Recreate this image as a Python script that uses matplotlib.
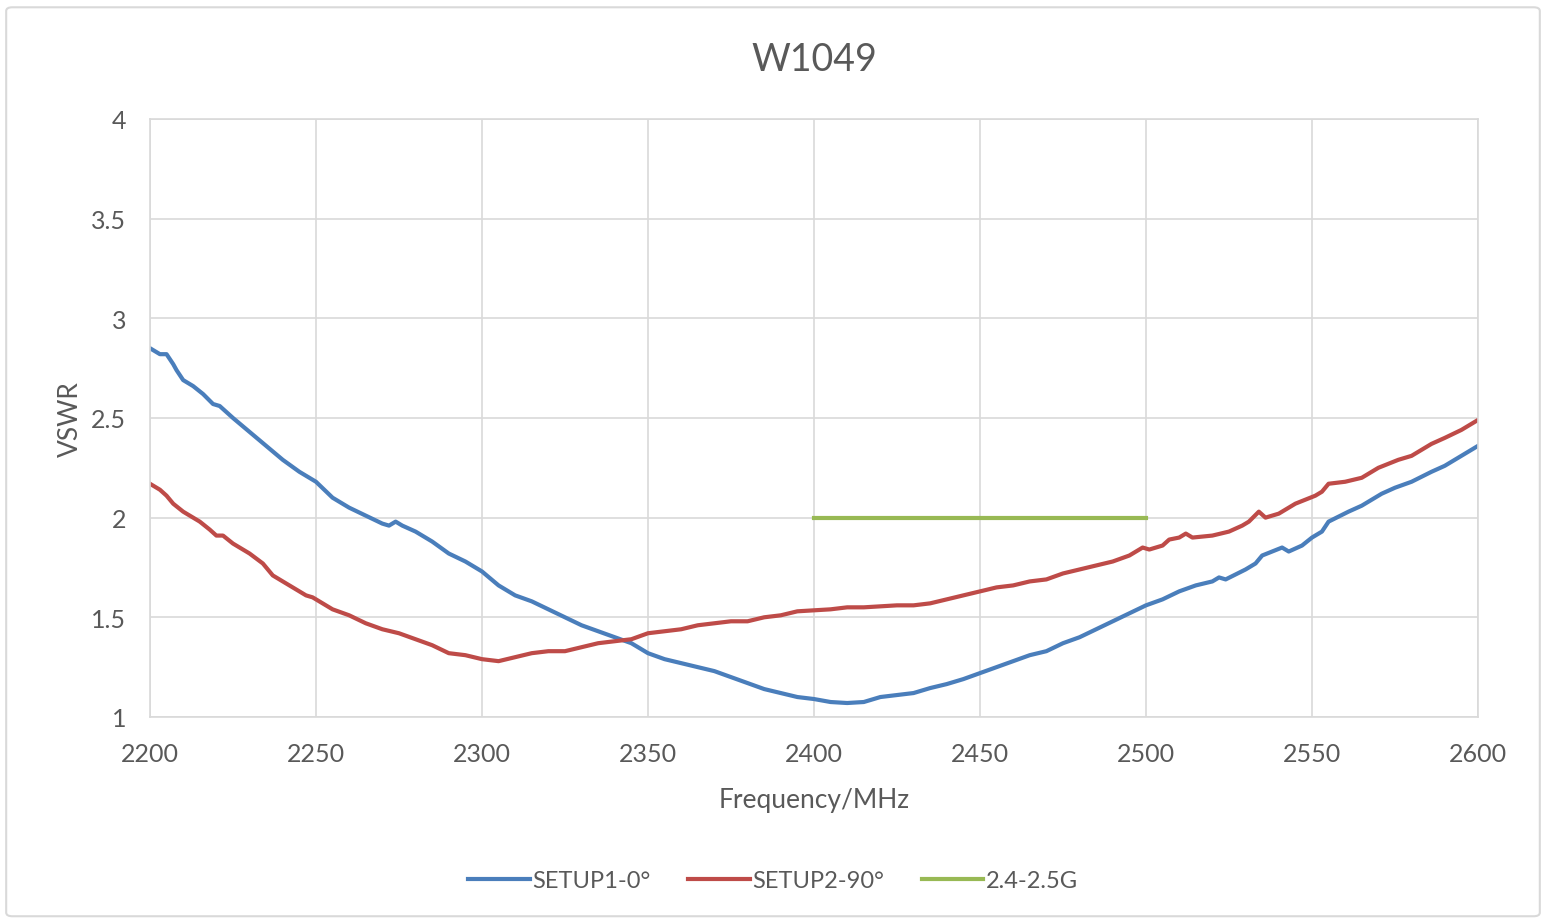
import numpy as np
import matplotlib
matplotlib.use('Agg')
import matplotlib.pyplot as plt
from matplotlib.patches import FancyBboxPatch

plt.rcParams['font.family'] = ['Lato', 'DejaVu Sans']

# SETUP1-0 deg
freq1 = [2200, 2203, 2205, 2207, 2208, 2210, 2213, 2216, 2219, 2221, 2225, 2230,
         2235, 2240, 2245, 2250, 2255, 2260, 2265, 2270, 2272, 2274, 2276, 2280,
         2285, 2290, 2295, 2300, 2305, 2310, 2315, 2320, 2325, 2330, 2335, 2340,
         2345, 2350, 2355, 2360, 2365, 2370, 2375, 2380, 2385, 2390, 2395, 2400,
         2405, 2410, 2415, 2420, 2425, 2430, 2435, 2440, 2445, 2450, 2455, 2460,
         2465, 2470, 2475, 2480, 2485, 2490, 2495, 2500, 2505, 2510, 2515, 2520,
         2522, 2524, 2530, 2533, 2535, 2541, 2543, 2547, 2550, 2553, 2555, 2561,
         2565, 2571, 2575, 2580, 2586, 2590, 2595, 2600]
vswr1 = [2.85, 2.82, 2.82, 2.77, 2.74, 2.69, 2.66, 2.62, 2.57, 2.56, 2.50, 2.43,
         2.36, 2.29, 2.23, 2.18, 2.10, 2.05, 2.01, 1.97, 1.96, 1.98, 1.96, 1.93,
         1.88, 1.82, 1.78, 1.73, 1.66, 1.61, 1.58, 1.54, 1.50, 1.46, 1.43, 1.40,
         1.37, 1.32, 1.29, 1.27, 1.25, 1.23, 1.20, 1.17, 1.14, 1.12, 1.10, 1.09,
         1.075, 1.07, 1.075, 1.10, 1.11, 1.12, 1.145, 1.165, 1.19, 1.22, 1.25, 1.28,
         1.31, 1.33, 1.37, 1.40, 1.44, 1.48, 1.52, 1.56, 1.59, 1.63, 1.66, 1.68,
         1.70, 1.69, 1.74, 1.77, 1.81, 1.85, 1.83, 1.86, 1.90, 1.93, 1.98, 2.03,
         2.06, 2.12, 2.15, 2.18, 2.23, 2.26, 2.31, 2.36]

# SETUP2-90 deg
freq2 = [2200, 2203, 2205, 2207, 2210, 2215, 2218, 2220, 2222, 2225, 2230, 2234,
         2237, 2240, 2245, 2247, 2249, 2250, 2255, 2260, 2265, 2270, 2275, 2280,
         2285, 2290, 2295, 2300, 2305, 2310, 2315, 2320, 2325, 2330, 2335, 2340,
         2345, 2350, 2355, 2360, 2365, 2370, 2375, 2380, 2385, 2390, 2395, 2400,
         2405, 2410, 2415, 2420, 2425, 2430, 2435, 2440, 2445, 2450, 2455, 2460,
         2465, 2470, 2475, 2480, 2485, 2490, 2495, 2499, 2501, 2505, 2507, 2510,
         2512, 2514, 2520, 2525, 2529, 2531, 2534, 2536, 2540, 2545, 2551, 2553,
         2555, 2560, 2565, 2570, 2576, 2580, 2586, 2590, 2595, 2600]
vswr2 = [2.17, 2.14, 2.11, 2.07, 2.03, 1.98, 1.94, 1.91, 1.91, 1.87, 1.82, 1.77,
         1.71, 1.68, 1.63, 1.61, 1.60, 1.59, 1.54, 1.51, 1.47, 1.44, 1.42, 1.39,
         1.36, 1.32, 1.31, 1.29, 1.28, 1.30, 1.32, 1.33, 1.33, 1.35, 1.37, 1.38,
         1.39, 1.42, 1.43, 1.44, 1.46, 1.47, 1.48, 1.48, 1.50, 1.51, 1.53, 1.535,
         1.54, 1.55, 1.55, 1.555, 1.56, 1.56, 1.57, 1.59, 1.61, 1.63, 1.65, 1.66,
         1.68, 1.69, 1.72, 1.74, 1.76, 1.78, 1.81, 1.85, 1.84, 1.86, 1.89, 1.90,
         1.92, 1.90, 1.91, 1.93, 1.96, 1.98, 2.03, 2.00, 2.02, 2.07, 2.11, 2.13,
         2.17, 2.18, 2.20, 2.25, 2.29, 2.31, 2.37, 2.40, 2.44, 2.49]

# target band
band_freq = [2400, 2500]
band_vswr = [2.0, 2.0]

text_col = '#595959'
grid_col = '#d9d9d9'

fig = plt.figure(figsize=(15.46, 9.2), dpi=100)
frame = FancyBboxPatch((0.004, 0.003), 0.992, 0.988, boxstyle='round,pad=0,rounding_size=0.004',
                       transform=fig.transFigure, facecolor='white', edgecolor='#d9d9d9',
                       lw=1.5, zorder=-10)
fig.patches.append(frame)

ax = fig.add_axes([0.097, 0.2196, 0.859, 0.65])
ax.patch.set_alpha(0)
ax.plot(freq1, vswr1, color='#4a7ebb', lw=3, label='SETUP1-0°')
ax.plot(freq2, vswr2, color='#be4b48', lw=3, label='SETUP2-90°')
ax.plot(band_freq, band_vswr, color='#98b954', lw=3, label='2.4-2.5G')

ax.set_xlim(2200, 2600)
ax.set_ylim(1, 4)
ax.set_xticks(np.arange(2200, 2601, 50))
ax.set_yticks(np.arange(1, 4.01, 0.5))
ax.set_yticklabels(['1', '1.5', '2', '2.5', '3', '3.5', '4'])
ax.grid(True, color=grid_col, lw=1.2)
ax.set_axisbelow(True)
for s in ax.spines.values():
    s.set_color(grid_col)
    s.set_linewidth(1.2)
ax.tick_params(length=0, labelsize=18, colors=text_col)
ax.tick_params(axis='x', pad=18)
ax.tick_params(axis='y', pad=17)

ax.set_title('W1049', fontsize=27, color=text_col, pad=35)
ax.set_xlabel('Frequency/MHz', fontsize=19, color=text_col, labelpad=16)
ax.set_ylabel('VSWR', fontsize=19, color=text_col, labelpad=6)

leg = fig.legend(loc='center', bbox_to_anchor=(0.5, 0.042), ncol=3, frameon=False,
                 fontsize=17, handlelength=2.6, handletextpad=0.1, columnspacing=1.6)
for t in leg.get_texts():
    t.set_color(text_col)

fig.savefig('out.png', dpi=100)
